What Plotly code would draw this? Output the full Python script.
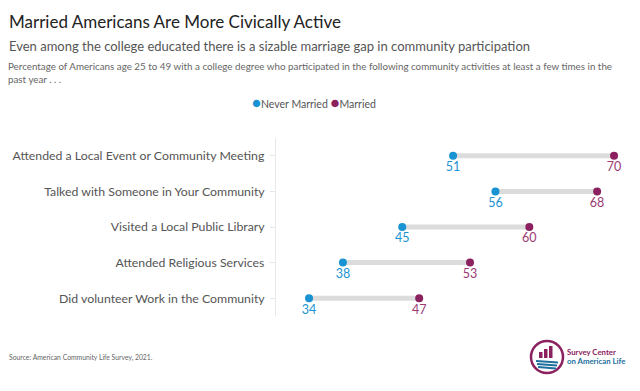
import plotly.graph_objects as go

categories = [
    "Attended a Local Event or Community Meeting",
    "Talked with Someone in Your Community",
    "Visited a Local Public Library",
    "Attended Religious Services",
    "Did volunteer Work in the Community",
]
never_married = [51, 56, 45, 38, 34]
married = [70, 68, 60, 53, 47]

BLUE = "#1a93d2"
PURPLE = "#8c2160"
LOGO_BLUE = "#1d6f9e"
FONT = "Lato"

# page has an 8px body margin; the figure is placed at (8, 8)
OX, OY = 8, 8
W, H = 640 - OX, 391 - OY
L, R, T, B = 276 - OX, 9, 138 - OY, 75

fig = go.Figure()

# connecting bars
xs, ys = [], []
for c, a, b in zip(categories, never_married, married):
    xs += [a, b, None]
    ys += [c, c, None]
fig.add_trace(go.Scatter(x=xs, y=ys, mode="lines", line=dict(color="#dcdcdc", width=5),
                         showlegend=False, hoverinfo="skip"))

fig.add_trace(go.Scatter(x=never_married, y=categories, mode="markers+text", name="Never Married",
                         marker=dict(color=BLUE, size=8), text=[str(v) for v in never_married],
                         textposition="bottom center", showlegend=False,
                         textfont=dict(color=BLUE, size=12.5, family=FONT)))
fig.add_trace(go.Scatter(x=married, y=categories, mode="markers+text", name="Married",
                         marker=dict(color=PURPLE, size=8), text=[str(v) for v in married],
                         textposition="bottom center", showlegend=False,
                         textfont=dict(color="#9a3a72", size=12.5, family=FONT)))

def px(x):
    return (x - OX - L) / (W - L - R)

def py(y):
    return 1 - (y - OY - T) / (H - T - B)

shapes = []
# logo circle
cx, cy, r = 547, 357, 16
shapes.append(dict(type="circle", xref="paper", yref="paper",
                   x0=px(cx - r), x1=px(cx + r), y0=py(cy + r), y1=py(cy - r),
                   line=dict(color=PURPLE, width=2.5)))
for i, bh in enumerate([6, 9, 12]):
    x0 = cx - 8 + i * 5
    shapes.append(dict(type="rect", xref="paper", yref="paper",
                       x0=px(x0), x1=px(x0 + 3.5), y0=py(cy + 1), y1=py(cy + 1 - bh),
                       fillcolor=PURPLE, line=dict(width=0)))
for k in range(3):
    yy = cy + 4 + k * 3
    shapes.append(dict(type="line", xref="paper", yref="paper",
                       x0=px(cx - 11 + k), x1=px(cx + 11 - k), y0=py(yy), y1=py(yy + 1.5),
                       line=dict(color=LOGO_BLUE, width=2)))

legend_text = (f"<span style='color:{BLUE};font-size:15px'>●</span>Never Married "
               f"<span style='color:{PURPLE};font-size:15px'>●</span>Married")

annotations = [
    dict(text="Married Americans Are More Civically Active", xref="paper", yref="paper",
         x=px(7), y=py(21), xanchor="left", yanchor="middle", showarrow=False,
         font=dict(family=FONT, size=17, color="#222222")),
    dict(text="Even among the college educated there is a sizable marriage gap in community participation",
         xref="paper", yref="paper", x=px(7), y=py(46), xanchor="left", yanchor="middle", showarrow=False,
         font=dict(family=FONT, size=13, color="#555555")),
    dict(text="Percentage of Americans age 25 to 49 with a college degree who participated in the following community activities at least a few times in the<br>past year . . .",
         xref="paper", yref="paper", x=px(6), y=py(72), xanchor="left", yanchor="middle", showarrow=False,
         align="left", font=dict(family=FONT, size=9.8, color="#666666")),
    dict(text=legend_text, xref="paper", yref="paper",
         x=px(314), y=py(102), xanchor="center", yanchor="middle", showarrow=False,
         font=dict(family=FONT, size=10.5, color="#555555")),
    dict(text="Source: American Community Life Survey, 2021.", xref="paper", yref="paper",
         x=px(7), y=py(357), xanchor="left", yanchor="middle", showarrow=False,
         font=dict(family=FONT, size=6.8, color="#666666")),
    dict(text="<b>Survey Center</b>", xref="paper", yref="paper",
         x=px(565), y=py(352), xanchor="left", yanchor="middle", showarrow=False,
         font=dict(family=FONT, size=7.8, color=PURPLE)),
    dict(text="<b>on American Life</b>", xref="paper", yref="paper",
         x=px(565), y=py(361), xanchor="left", yanchor="middle", showarrow=False,
         font=dict(family=FONT, size=7.8, color=LOGO_BLUE)),
]

fig.update_layout(
    width=W, height=H,
    margin=dict(l=L, r=R, t=T, b=B, autoexpand=False),
    paper_bgcolor="white", plot_bgcolor="white",
    font=dict(family=FONT, color="#555555"),
    showlegend=False,
    xaxis=dict(range=[30.1, 72], showgrid=False, zeroline=False, showticklabels=False,
               showline=False, fixedrange=True),
    yaxis=dict(categoryorder="array", categoryarray=categories[::-1], autorange=False,
               range=[-0.5, 4.5], showgrid=False, zeroline=False,
               showline=True, linecolor="#e8e8e8", linewidth=1,
               ticks="outside", ticklen=5, tickcolor="#e6e6e6", tickwidth=1,
               tickfont=dict(family=FONT, size=12.3, color="#555555"), ticksuffix=" "),
    shapes=shapes,
    annotations=annotations,
)

fig.write_html("out.html")
